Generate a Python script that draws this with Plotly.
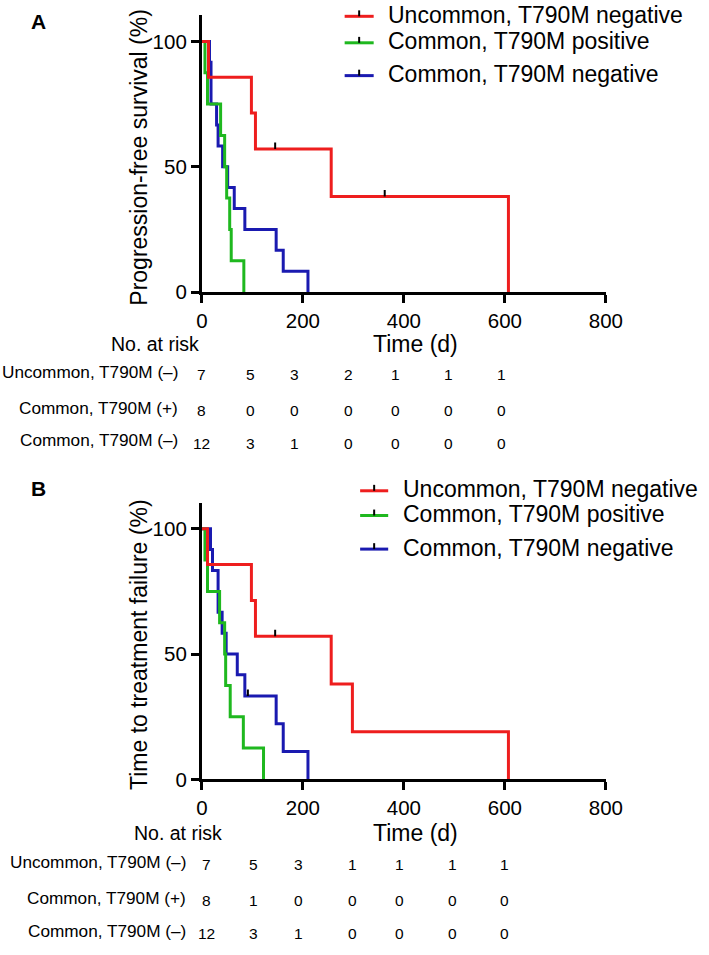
import plotly.graph_objects as go

W, H = 709, 955

# ---------------- data ----------------
group_names = ["Uncommon, T790M negative", "Common, T790M positive", "Common, T790M negative"]
risk_labels = ["Uncommon, T790M (\u2013)", "Common, T790M (+)", "Common, T790M (\u2013)"]
colors = ["#EE1E1E", "#1FB81F", "#1A1AB0"]

# Panel A: progression-free survival (%)
pfs_unc_t = [0, 13, 98, 106, 256, 607]
pfs_unc_s = [100, 85.7, 71.4, 57.1, 38.1, 0]
pfs_unc_cens_t = [145, 362]
pfs_unc_cens_s = [57.1, 38.1]

pfs_cpos_t = [0, 6, 11, 37, 45, 49, 55, 58, 83]
pfs_cpos_s = [100, 87.5, 75, 62.5, 50, 37.5, 25, 12.5, 0]

pfs_cneg_t = [0, 15, 18, 29, 32, 41, 51, 64, 85, 147, 161, 210]
pfs_cneg_s = [100, 91.7, 75, 66.7, 58.3, 50, 41.7, 33.3, 25, 16.7, 8.3, 0]

pfs_risk_unc = [7, 5, 3, 2, 1, 1, 1]
pfs_risk_cpos = [8, 0, 0, 0, 0, 0, 0]
pfs_risk_cneg = [12, 3, 1, 0, 0, 0, 0]

# Panel B: time to treatment failure (%)
ttf_unc_t = [0, 11, 98, 106, 256, 298, 607]
ttf_unc_s = [100, 85.7, 71.4, 57.1, 38.1, 19.0, 0]
ttf_unc_cens_t = [145]
ttf_unc_cens_s = [57.1]

ttf_cpos_t = [0, 6, 11, 35, 45, 47, 56, 82, 122]
ttf_cpos_s = [100, 87.5, 75, 62.5, 50, 37.5, 25, 12.5, 0]

ttf_cneg_t = [0, 17, 21, 32, 40, 48, 70, 85, 147, 161, 210]
ttf_cneg_s = [100, 91.7, 83.3, 66.7, 58.3, 50, 41.7, 33.3, 22.2, 11.1, 0]
ttf_cneg_cens_t = [91]
ttf_cneg_cens_s = [33.3]

ttf_risk_unc = [7, 5, 3, 1, 1, 1, 1]
ttf_risk_cpos = [8, 1, 0, 0, 0, 0, 0]
ttf_risk_cneg = [12, 3, 1, 0, 0, 0, 0]

x_ticks = [0, 200, 400, 600, 800]
y_ticks = [0, 50, 100]

# ---------------- layout helpers ----------------
FONT = "Arial, Liberation Sans, Helvetica, sans-serif"


def PX(x):
    return x / W


def PY(y):
    return 1 - y / H


fig = go.Figure()

panels = [
    dict(
        xa="x", ya="y",
        curves=[(pfs_cneg_t, pfs_cneg_s, 2), (pfs_cpos_t, pfs_cpos_s, 1), (pfs_unc_t, pfs_unc_s, 0)],
        cens=[(pfs_unc_cens_t, pfs_unc_cens_s, 0)],
        risk=[pfs_risk_unc, pfs_risk_cpos, pfs_risk_cneg],
        top=15.5, bottom=295.5,
        ytitle="Progression-free survival (%)", ytitle_y=159,
        letter="A", letter_y=22,
        time_y=348, nar_x=153.5, nar_y=348,
        row_label_x=180, row_y=[376, 412.5, 445.5],
        risk_cols=[0, 96, 184, 290, 383, 488, 593],
        leg_line=(350, 380), leg_text_x=393, leg_rows=[16.5, 43.3, 76.5],
    ),
    dict(
        xa="x2", ya="y2",
        curves=[(ttf_cneg_t, ttf_cneg_s, 2), (ttf_cpos_t, ttf_cpos_s, 1), (ttf_unc_t, ttf_unc_s, 0)],
        cens=[(ttf_unc_cens_t, ttf_unc_cens_s, 0), (ttf_cneg_cens_t, ttf_cneg_cens_s, 2)],
        risk=[ttf_risk_unc, ttf_risk_cpos, ttf_risk_cneg],
        top=508.5, bottom=788.5,
        ytitle="Time to treatment failure (%)", ytitle_y=652,
        letter="B", letter_y=494,
        time_y=843, nar_x=178, nar_y=843,
        row_label_x=188, row_y=[872, 908, 941.5],
        risk_cols=[9.6, 102, 192, 299, 392, 497, 599],
        leg_line=(366, 395), leg_text_x=408, leg_rows=[496.5, 521.5, 555.5],
    ),
]

x_left, x_right = 202.5, 620.0
y_top_val = 110.4

annotations = []
shapes = []
layout_axes = {}

for i, p in enumerate(panels):
    xa, ya = p["xa"], p["ya"]
    xkey = "xaxis" if xa == "x" else "xaxis2"
    ykey = "yaxis" if ya == "y" else "yaxis2"
    layout_axes[xkey] = dict(
        domain=[PX(x_left), PX(x_right)], anchor=ya, range=[0, 800],
        tickvals=x_ticks, ticks="outside", ticklen=8, tickwidth=3, tickcolor="black",
        showline=True, linewidth=3, linecolor="black", showgrid=False, zeroline=False,
        tickfont=dict(family=FONT, size=20.5, color="black"),
    )
    layout_axes[ykey] = dict(
        domain=[PY(p["bottom"]), PY(p["top"])], anchor=xa, range=[0, y_top_val],
        tickvals=y_ticks, ticks="outside", ticklen=8, tickwidth=3, tickcolor="black",
        showline=True, linewidth=3, linecolor="black", showgrid=False, zeroline=False,
        tickfont=dict(family=FONT, size=20.5, color="black"),
    )

    for t, s, ci in p["curves"]:
        fig.add_trace(go.Scatter(
            x=t, y=s, mode="lines", line=dict(color=colors[ci], width=3, shape="hv"),
            xaxis=xa, yaxis=ya, showlegend=False, hoverinfo="skip",
        ))
    for ct, cs, ci in p["cens"]:
        xs, ys = [], []
        for tt, ss in zip(ct, cs):
            xs += [tt, tt, None]
            ys += [ss, ss + 2.6, None]
        fig.add_trace(go.Scatter(
            x=xs, y=ys, mode="lines", line=dict(color="black", width=2),
            xaxis=xa, yaxis=ya, showlegend=False, hoverinfo="skip",
        ))

    annotations.append(dict(
        text=p["ytitle"], textangle=-90, x=PX(138), y=PY(p["ytitle_y"]),
        xref="paper", yref="paper", xanchor="center", yanchor="middle", showarrow=False,
        font=dict(family=FONT, size=23, color="black"),
    ))
    annotations.append(dict(
        text="Time (d)", x=PX(423), y=PY(p["time_y"]), xref="paper", yref="paper",
        xanchor="center", yanchor="middle", showarrow=False,
        font=dict(family=FONT, size=23, color="black"),
    ))
    annotations.append(dict(
        text="<b>%s</b>" % p["letter"], x=PX(34), y=PY(p["letter_y"]), xref="paper", yref="paper",
        xanchor="center", yanchor="middle", showarrow=False,
        font=dict(family=FONT, size=21, color="black"),
    ))
    annotations.append(dict(
        text="No. at risk", x=PX(p["nar_x"]), y=PY(p["nar_y"]), xref="paper", yref="paper",
        xanchor="center", yanchor="middle", showarrow=False,
        font=dict(family=FONT, size=19.5, color="black"),
    ))
    for r, (lab, counts) in enumerate(zip(risk_labels, p["risk"])):
        ry = p["row_y"][r]
        annotations.append(dict(
            text=lab, x=PX(p["row_label_x"]), y=PY(ry), xref="paper", yref="paper",
            xanchor="right", yanchor="middle", showarrow=False,
            font=dict(family=FONT, size=17.2, color="black"),
        ))
        for cx, n in zip(p["risk_cols"], counts):
            annotations.append(dict(
                text=str(n), x=cx, y=PY(ry + 3), xref=xa, yref="paper",
                xanchor="center", yanchor="middle", showarrow=False,
                font=dict(family=FONT, size=15.5, color="black"),
            ))
    lx0, lx1 = p["leg_line"]
    for gi, (name, ly) in enumerate(zip(group_names, p["leg_rows"])):
        shapes.append(dict(type="line", xref="paper", yref="paper",
                           x0=PX(lx0), x1=PX(lx1), y0=PY(ly), y1=PY(ly),
                           line=dict(color=colors[gi], width=3)))
        mid = (lx0 + lx1) / 2
        shapes.append(dict(type="line", xref="paper", yref="paper",
                           x0=PX(mid), x1=PX(mid), y0=PY(ly), y1=PY(ly - 6),
                           line=dict(color="black", width=2)))
        annotations.append(dict(
            text=name, x=PX(p["leg_text_x"]), y=PY(ly - 1.5), xref="paper", yref="paper",
            xanchor="left", yanchor="middle", showarrow=False,
            font=dict(family=FONT, size=23, color="black"),
        ))

fig.update_layout(
    width=W, height=H,
    margin=dict(l=0, r=0, t=0, b=0),
    paper_bgcolor="white", plot_bgcolor="white",
    showlegend=False,
    annotations=annotations, shapes=shapes,
    **layout_axes,
)

fig.write_html(
    "out.html",
    config={"displayModeBar": False},
    post_script="document.body.style.margin='0px';",
)
